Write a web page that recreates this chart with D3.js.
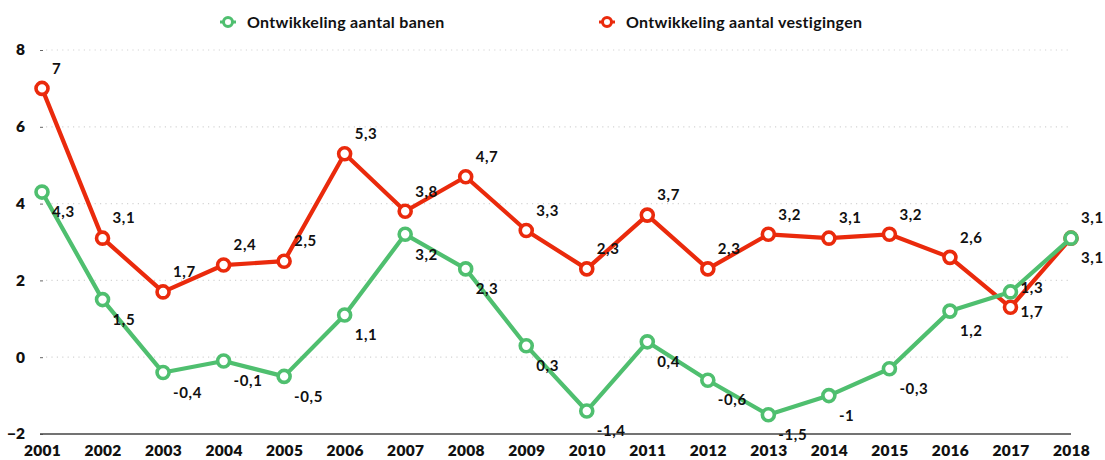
<!DOCTYPE html>
<html>
<head>
<meta charset="utf-8">
<script src="https://cdn.jsdelivr.net/npm/d3@7"></script>
<style>
  body { margin: 0; background: #fff; }
  text { font-family: Lato, "Noto Sans", sans-serif; font-weight: 700; fill: #111; }
</style>
</head>
<body>
<div id="chart"></div>
<script>
// chart values
const years = [2001, 2002, 2003, 2004, 2005, 2006, 2007, 2008, 2009, 2010, 2011, 2012, 2013, 2014, 2015, 2016, 2017, 2018];
const banen = [4.3, 1.5, -0.4, -0.1, -0.5, 1.1, 3.2, 2.3, 0.3, -1.4, 0.4, -0.6, -1.5, -1, -0.3, 1.2, 1.7, 3.1];
const vestigingen = [7, 3.1, 1.7, 2.4, 2.5, 5.3, 3.8, 4.7, 3.3, 2.3, 3.7, 2.3, 3.2, 3.1, 3.2, 2.6, 1.3, 3.1];
const yTicks = [-2, 0, 2, 4, 6, 8];
const seriesNames = ["Ontwikkeling aantal banen", "Ontwikkeling aantal vestigingen"];

const green = "#4fbf6f", red = "#ea2a0c";
const width = 1105, height = 460;

const svg = d3.select("#chart").append("svg")
    .attr("width", width)
    .attr("height", height);

const xScale = d3.scalePoint().domain(years).range([42, 1071]);
const yScale = d3.scaleLinear().domain([-2, 8]).range([434, 50]);
const fmt = v => String(v).replace(".", ",");

// dotted gridlines
svg.append("g").selectAll("line")
    .data(yTicks.filter(t => t > -2))
    .join("line")
    .attr("x1", 46).attr("x2", 1071)
    .attr("y1", d => yScale(d)).attr("y2", d => yScale(d))
    .attr("stroke", "#d4d4d4")
    .attr("stroke-width", 1.2)
    .attr("stroke-dasharray", "1.2,4.2");

// y axis labels + small ticks
const yAxis = d3.axisLeft(yScale).tickValues(yTicks).tickSize(3).tickPadding(15);
svg.append("g")
    .attr("transform", "translate(43,0)")
    .call(yAxis)
    .call(g => g.select(".domain").remove())
    .call(g => g.selectAll(".tick line").attr("stroke", "#666"))
    .call(g => g.selectAll(".tick text").attr("font-size", 15.5).attr("fill", "#111")
        .style("font-family", "Lato, 'Noto Sans', sans-serif").style("font-weight", 800));

// x axis
const xAxis = d3.axisBottom(xScale).tickSize(0).tickPadding(11);
svg.append("g")
    .attr("transform", "translate(0," + yScale(-2) + ")")
    .call(xAxis)
    .call(g => g.select(".domain").attr("stroke", "#444").attr("stroke-width", 1.5).attr("d", "M40,0H1071"))
    .call(g => g.selectAll(".tick text").attr("font-size", 15.5).attr("fill", "#111")
        .style("font-family", "Lato, 'Noto Sans', sans-serif").style("font-weight", 800)
        .style("letter-spacing", "0.3px"));

const line = d3.line().x((d, i) => xScale(years[i])).y(d => yScale(d));

function drawSeries(values, color) {
    const g = svg.append("g");
    g.append("path")
        .datum(values)
        .attr("d", line)
        .attr("fill", "none")
        .attr("stroke", color)
        .attr("stroke-width", 4.2)
        .attr("stroke-linejoin", "round");
    g.selectAll("circle")
        .data(values)
        .join("circle")
        .attr("cx", (d, i) => xScale(years[i]))
        .attr("cy", d => yScale(d))
        .attr("r", 6)
        .attr("fill", "#fff")
        .attr("stroke", color)
        .attr("stroke-width", 3.6);
    return g;
}

function drawLabels(values, labelDy) {
    svg.append("g").selectAll("text")
        .data(values)
        .join("text")
        .attr("x", (d, i) => xScale(years[i]) + 10)
        .attr("y", d => yScale(d) + labelDy)
        .attr("dy", "0.35em")
        .attr("font-size", 15)
        .style("letter-spacing", "0.6px")
        .text(d => fmt(d));
}

drawSeries(vestigingen, red);
drawSeries(banen, green);
drawLabels(vestigingen, -20);
drawLabels(banen, 20);

// legend
const legend = [
    {name: seriesNames[0], color: green, x: 228},
    {name: seriesNames[1], color: red, x: 607}
];
const lg = svg.append("g").selectAll("g").data(legend).join("g")
    .attr("transform", d => "translate(" + d.x + ",22)");
lg.append("circle").attr("r", 4.5).attr("fill", "#fff")
    .attr("stroke", d => d.color).attr("stroke-width", 3);
lg.append("line").attr("x1", -8).attr("x2", -4.5).attr("stroke", d => d.color).attr("stroke-width", 3);
lg.append("line").attr("x1", 4.5).attr("x2", 8).attr("stroke", d => d.color).attr("stroke-width", 3);
lg.append("text").attr("x", 19).attr("dy", "0.35em").attr("font-size", 16)
    .style("letter-spacing", "0.3px").text(d => d.name);
</script>
</body>
</html>
